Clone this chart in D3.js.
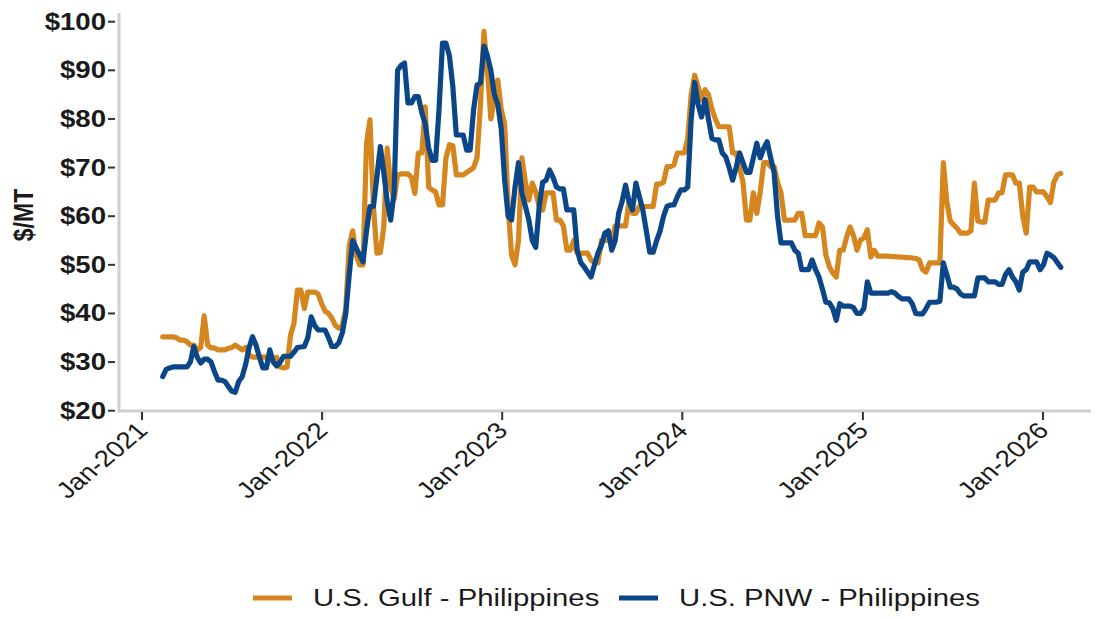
<!DOCTYPE html>
<html><head><meta charset="utf-8">
<script src="https://cdn.jsdelivr.net/npm/d3@7/dist/d3.min.js"></script>
<style>
html,body{margin:0;padding:0;background:#fff;}
svg{display:block;font-family:"Liberation Sans",Arial,sans-serif;}
</style></head>
<body><svg id="chart" width="1096" height="619"></svg>
<script>
// weekly observations starting 12 Feb 2021
const startDate = new Date(2021, 1, 12);
const seriesNames = ["U.S. Gulf - Philippines", "U.S. PNW - Philippines"];
const seriesColors = ["#D5861F", "#0B4788"];
const gulf = [
35.2,35.2,35.2,35.2,35.0, 34.5,34.5,34.2,33.5,33.5, 32.5,33,39.5,33.5,32.9, 32.9,32.5,32.5,32.5,32.8,
33,33.5,33,32.5,33, 31.5,31,31,31.2,31, 31,31,30.5,31,29, 28.8,29,35.5,38,44.8,
44.8,41,44.4,44.4,44.4, 44,42,40.5,40,39, 37.5,37,37.5,41,54, 57,52,50,50,75,
79.8,62,52.4,52.5,57.8, 74,66,63.5,68.5,68.7, 68.7,68.7,68,64.7,73, 73,82.5,66,65.4,65,
62.3,62.3,72,74.7,74.5, 68.5,68.5,68.5,69,69.5, 70,72,83,98,90, 80,84,88,82,79,
62,52,50,55,72, 67,63.3,66.8,65,62, 61.3,64.8,64.8,64.8,59.2, 59.2,58,53,53,55,
52.4,52.4,52.4,52.4,51, 50.4,50.4,55,55,55, 55,58,58,58,58, 63,60.6,60.6,62,62,
62,62,62,66.6,66.6, 67,70.2,70.2,70.5,73, 73,73,76,85,89, 86.6,84,86,85,82,
80,78.4,78.4,78.4,78.4, 73,73,70,67,59.2, 59.2,64.8,60.6,65,71, 71,70.2,70.2,67,64.8,
59.2,59.2,59.2,59.2,60.6, 60.6,56,56,56,56, 58.6,57.8,52,49.6,48.3, 47.5,53,53,55.7,57.8,
56,53,55.1,55.5,57.2, 51.6,53,51.8,51.8,51.8, 51.8,51.7,51.7,51.6,51.6, 51.5,51.5,51.4,51.3,51,
49,48.5,50.4,50.4,50.4, 50.4,71,63,59,58.2, 57.5,56.5,56.5,56.5,57, 66.8,59,58.8,58.8,63.3,
63.3,63.3,64.8,64.8,68.5, 68.5,68.5,66.8,66.8,60, 56.5,66,66,65,65, 65,64,62.8,67,68.5,
68.8];
const pnw = [
27,28.5,28.8,29,29, 29,29,29,30,33.2, 31,29.8,30.6,30.6,30, 28,26.3,26.3,26,25,
24,23.8,26,27,29.5, 33,35.2,33.5,31,28.8, 28.8,32.5,30,29.2,30, 31.2,31.2,31.2,32,33,
33.1,33.2,35,39.3,37.5, 36.6,36.6,36.6,35,33.2, 33.2,34,36,40,48, 55,53.5,52,50.6,57,
62,62,68,74.3,69, 63,59.2,65,90,91, 91.5,83.3,83.3,84.6,84.6, 81.3,79,74,71.5,71.5,
82,95.6,95.6,93,86.6, 76.7,76.7,76.7,73.6,73.6, 81.9,87,87.4,95,93, 90,85,83,78,67.4,
60,59.2,66,71,64.8, 62,59.2,55,53.6,62, 67,67.4,69.5,68,66, 65.6,65.6,61.3,61.3,61.3,
53,50.5,49.6,48.5,47.5, 50,52.4,54,56.5,57, 53,55,60.6,63,66.4, 63,61.3,66.8,64,61.3,
57,52.6,52.6,55,57, 60,62,62.3,62.3,64, 65.4,65.4,66,80,87.5, 83,80.4,84,80,76,
75.7,75.7,73,72.2,70, 67.4,70,73,71,69, 69,72,75,72,74, 75.3,72,69,60,54.5,
54.5,54.5,54.5,53,52.4, 49,49,49,51,49, 47.5,45,42.3,42.2,41, 38.6,42,41.5,41.5,41.5,
41.2,40,40,41,46.5, 44.2,44.2,44.2,44.2,44.2, 44.2,44.5,44.2,43.5,43, 43,43,42,40,39.9,
39.9,41,42.3,42.3,42.3, 42.5,50.4,48,45.4,45.4, 45,44,43.6,43.6,43.6, 43.6,47.3,47.3,47.3,46.5,
46.5,46.5,46,46,48, 49,47.5,46.5,44.8,48.5, 49,50.6,50.6,50.6,49, 50,52.4,52,51.5,50.5,
49.5];
const dates = d3.range(gulf.length).map(i => d3.timeDay.offset(startDate, 7 * i));
const yTicks = [20, 30, 40, 50, 60, 70, 80, 90, 100];
const xTicks = [2021, 2022, 2023, 2024, 2025, 2026].map(y => new Date(y, 0, 1));
const yTitle = "$/MT";

const svg = d3.select("#chart");
const SX = 1.2; // horizontal text stretch seen in reference

const x = d3.scaleTime().domain([new Date(2021,0,1), new Date(2026,0,1)]).range([142, 1043]);
const y = d3.scaleLinear().domain([20, 100]).range([410.7, 21.7]);

// axis lines
svg.append("line").attr("x1", 119).attr("x2", 119).attr("y1", 13).attr("y2", 412)
  .attr("stroke", "#cfcfcf").attr("stroke-width", 3);
svg.append("line").attr("x1", 118).attr("x2", 1091).attr("y1", 411).attr("y2", 411)
  .attr("stroke", "#cfcfcf").attr("stroke-width", 3);

// y ticks + labels
const yg = svg.append("g");
yTicks.forEach(t => {
  yg.append("line").attr("x1", 108).attr("x2", 115).attr("y1", y(t)).attr("y2", y(t))
    .attr("stroke", "#333").attr("stroke-width", 2);
  yg.append("text")
    .attr("transform", `translate(106,${y(t) + 8}) scale(${SX},1)`)
    .attr("text-anchor", "end").attr("font-size", 23).attr("font-weight", "bold")
    .attr("fill", "#1a1a1a").text("$" + t);
});

// x ticks + labels
const fmt = d3.timeFormat("%b-%Y");
const xg = svg.append("g");
xTicks.forEach(t => {
  xg.append("line").attr("x1", x(t)).attr("x2", x(t)).attr("y1", 412).attr("y2", 420)
    .attr("stroke", "#333").attr("stroke-width", 2);
  xg.append("text")
    .attr("transform", `translate(${x(t) + 7},432) scale(${SX},1) rotate(-45)`)
    .attr("text-anchor", "end").attr("font-size", 23)
    .attr("fill", "#1a1a1a").text(fmt(t));
});

// y title
svg.append("text")
  .attr("transform", `translate(33,215) rotate(-90) scale(1,${SX})`)
  .attr("text-anchor", "middle").attr("font-size", 23).attr("font-weight", "bold")
  .attr("fill", "#1a1a1a").text(yTitle);

// lines
const line = d3.line().x((d, i) => x(dates[i])).y(d => y(d)).curve(d3.curveLinear);
[gulf, pnw].forEach((s, k) => {
  svg.append("path").datum(s).attr("d", line).attr("fill", "none")
    .attr("stroke", seriesColors[k]).attr("stroke-width", 5.2)
    .attr("stroke-linejoin", "round").attr("stroke-linecap", "round");
});

// legend
const legendX = [253, 619];
seriesNames.forEach((n, k) => {
  svg.append("line").attr("x1", legendX[k]).attr("x2", legendX[k] + 39)
    .attr("y1", 598).attr("y2", 598).attr("stroke", seriesColors[k]).attr("stroke-width", 5);
  svg.append("text")
    .attr("transform", `translate(${legendX[k] + 60},606) scale(${SX},1)`)
    .attr("font-size", 24.4).attr("fill", "#1a1a1a").text(n);
});
</script></body></html>
